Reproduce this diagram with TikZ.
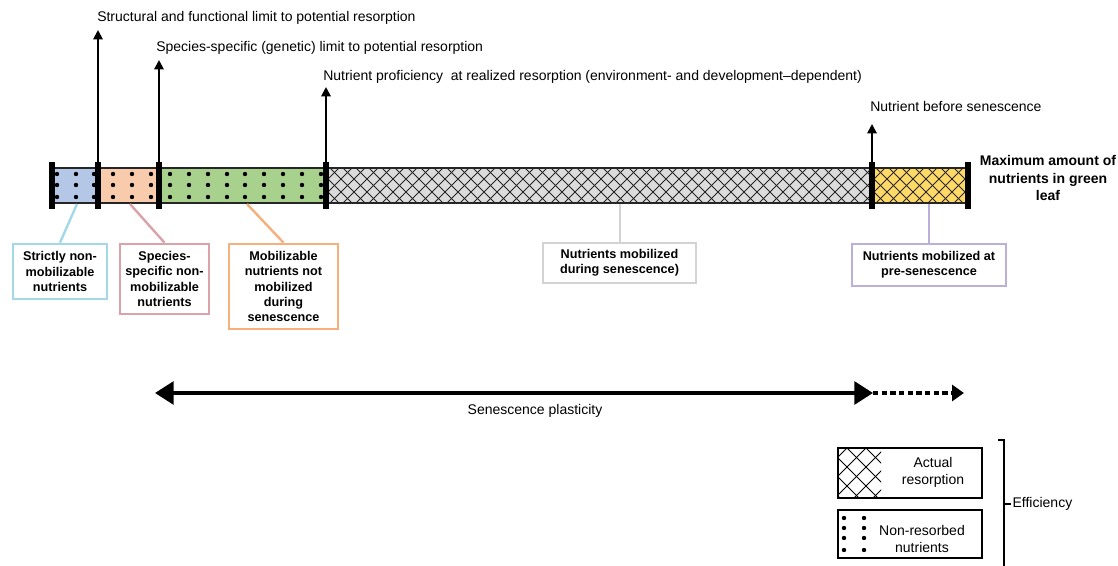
\documentclass[tikz,border=0pt]{standalone}
\usepackage{fontspec}
\setmainfont{Liberation Sans}
\usetikzlibrary{arrows.meta}
\definecolor{segblue}{HTML}{B4C7E7}
\definecolor{segorange}{HTML}{F8CBAD}
\definecolor{seggreen}{HTML}{A9D18E}
\definecolor{seggray}{HTML}{DCDCDC}
\definecolor{segyellow}{HTML}{FFD966}
\definecolor{cblue}{HTML}{A3D8E6}
\definecolor{cpink}{HTML}{D9A3A9}
\definecolor{corange}{HTML}{F5B07C}
\definecolor{cgray}{HTML}{D3D3D3}
\definecolor{cpurple}{HTML}{BBB0DA}
\begin{document}
\begin{tikzpicture}[x=0.75pt,y=-0.75pt,
  tickmark/.style={line width=4.5pt},
  uparrow/.style={line width=1.4pt,-{Triangle[width=7pt,length=7pt]}},
  toptext/.style={anchor=base west,font=\fontsize{10.5}{12.6}\selectfont,inner sep=0pt},
  cbox/.style={draw,line width=2pt,fill=white,align=center,font=\bfseries\fontsize{9.5}{11.3}\selectfont,inner sep=0pt},
  conn/.style={line width=1.8pt},
  dotm/.style={fill=black,circle,inner sep=0pt,minimum size=3.3pt},
  hatch/.style={line width=0.7pt,color=black!85},
  legbox/.style={draw,line width=0.8pt,inner sep=0pt},
  legtext/.style={align=center,font=\fontsize{10.5}{12.8}\selectfont,inner sep=0pt},
]
\useasboundingbox (0,0) rectangle (1118,566);

% ---- bar segments
\fill[segblue] (52,168) rectangle (98,203);
\fill[segorange] (98,168) rectangle (159,203);
\fill[seggreen] (159,168) rectangle (326,203);
\fill[seggray] (326,168) rectangle (872,203);
\fill[segyellow] (872,168) rectangle (968,203);

% dots
\foreach \y in {174,185,197}{
  \foreach \x in {57,76,94,113,132,151,170,189,208,227,245,264,283,302,321}
    \node[dotm] at (\x,\y) {};
}
% crosshatch
\begin{scope}
  \clip (326,168) rectangle (968,203);
  \foreach \i in {0,...,56}{
    \draw[hatch] (291+13*\i,168) -- ++(35,35);
    \draw[hatch] (326+13*\i,168) -- ++(-35,35);
  }
\end{scope}
\draw[line width=0.8pt,black!85] (52,168) rectangle (968,203);

% ticks
\foreach \x in {52,98,159,326,872,968}
  \draw[tickmark] (\x,162) -- (\x,209);

% ---- up arrows and labels
\coordinate (s1) at (98,162);  \coordinate (a1) at (98,30);
\coordinate (s2) at (159,162); \coordinate (a2) at (159,60);
\coordinate (s3) at (326,162); \coordinate (a3) at (326,87);
\coordinate (s4) at (872,162); \coordinate (a4) at (872,124);
\draw[uparrow] (s1) -- (a1);
\draw[uparrow] (s2) -- (a2);
\draw[uparrow] (s3) -- (a3);
\draw[uparrow] (s4) -- (a4);
\node[toptext] (l1) at (97,22) {Structural and functional limit to potential resorption};
\node[toptext] (l2) at (156,52) {Species-specific (genetic) limit to potential resorption};
\node[toptext] (l3) at (323,81) {Nutrient proficiency\ \ at realized resorption (environment- and development--dependent)};
\node[toptext] (l4) at (870,112) {Nutrient before senescence};

\node[align=center,font=\bfseries\fontsize{10.5}{13}\selectfont,inner sep=0pt] (maxl) at (1048,178)
  {Maximum amount of\\nutrients in green\\leaf};

% ---- callout boxes
\node[cbox,draw=cblue,minimum width=70.5pt,minimum height=41.25pt] (b1) at (60,271.5)
  {Strictly non-\\mobilizable\\nutrients};
\node[cbox,draw=cpink,minimum width=66.75pt,minimum height=52.5pt] (b2) at (164.5,279)
  {Species-\\specific non-\\mobilizable\\nutrients};
\node[cbox,draw=corange,minimum width=81.75pt,minimum height=63.75pt] (b3) at (283.5,286.5)
  {Mobilizable\\nutrients not\\mobilized\\during\\senescence};
\node[cbox,draw=cgray,minimum width=114.75pt,minimum height=30pt] (b4) at (619.5,263)
  {Nutrients mobilized\\during senescence)};
\node[cbox,draw=cpurple,minimum width=115.5pt,minimum height=31.5pt] (b5) at (929,265)
  {Nutrients mobilized at\\pre-senescence};

\coordinate (c1) at (77,204);
\coordinate (c2) at (130,204);
\coordinate (c3) at (247,204);
\coordinate (c4) at (620,204);
\coordinate (c5) at (929,204);
\draw[conn,cblue] (c1) -- (b1.north);
\draw[conn,cpink] (c2) -- (b2.north);
\draw[conn,corange] (c3) -- (b3.north);
\draw[conn,cgray] (c4) -- (b4.north -| c4);
\draw[conn,cpurple] (c5) -- (b5.north);

% ---- senescence plasticity
\coordinate (pl) at (155,393);
\coordinate (pr) at (873,393);
\coordinate (pe) at (964,393);
\draw[line width=3pt,dash pattern=on 4pt off 2.5pt,-{Triangle[width=12pt,length=9pt]}] (pr) -- (pe);
\draw[line width=3pt,{Triangle[width=17pt,length=14pt]}-{Triangle[width=17pt,length=14pt]}] (pl) -- (pr);
\node[font=\fontsize{10.5}{12.6}\selectfont,inner sep=0pt] (spl) at (535,411) {Senescence plasticity};

% ---- legend
\node[legbox,minimum width=108pt,minimum height=37.5pt] (lg1) at (910,473) {};
\begin{scope}
  \clip (838,448) rectangle (881,498);
  \foreach \i in {-3,...,4}{
    \draw[line width=0.7pt] (847+19*\i,448) -- ++(50,50);
    \draw[line width=0.7pt] (847+19*\i,448) -- ++(-50,50);
  }
\end{scope}
\node[legbox,minimum width=108pt,minimum height=37.5pt,fill=none] at (910,473) {};
\node[legtext] (lt1) at (933,472) {Actual\\resorption};

\node[legbox,minimum width=108pt,minimum height=36pt] (lg2) at (910,534) {};
\foreach \y in {518,528,538,550}{
  \node[dotm] at (844,\y) {};
  \node[dotm] at (864,\y) {};
}
\node[legtext] (lt2) at (922,539) {Non-resorbed\\nutrients};

% bracket
\coordinate (bk0) at (998,440);
\coordinate (bk1) at (1004,440);
\coordinate (bk2) at (1004,566);
\coordinate (bk3) at (1004,504);
\coordinate (bk4) at (1011,504);
\draw[line width=1pt] (bk0) -- (bk1) -- (bk2);
\draw[line width=1pt] (bk3) -- (bk4);
\node[anchor=west,font=\fontsize{10.5}{12.6}\selectfont,inner sep=1pt] (eff) at (bk4) {Efficiency};
\end{tikzpicture}
\end{document}
